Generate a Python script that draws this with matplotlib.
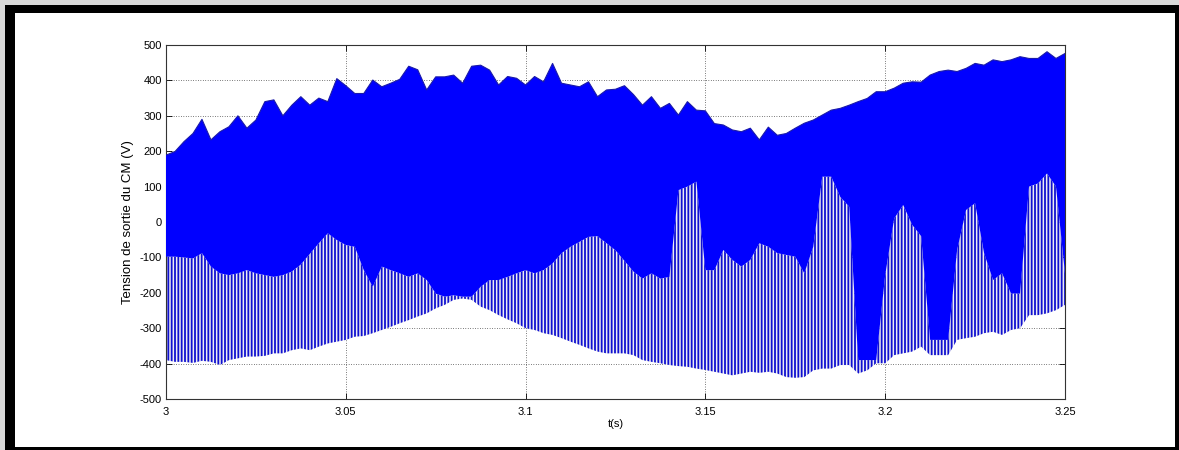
import numpy as np
import matplotlib.pyplot as plt
from matplotlib.patches import Rectangle

# sample grid, one reading every 2.5 ms
t = np.linspace(3.0, 3.25, 101)

# upper envelope of the CM output voltage (V)
v_top = [189, 199, 227, 250, 290, 232, 255, 269, 300, 265, 288, 340, 345, 300, 330, 354, 330, 350,
         340, 405, 385, 363, 363, 401, 382, 392, 403, 440, 430, 373, 410, 410, 415, 392,
         440, 443, 429, 387, 411, 406, 387, 411, 396, 448, 392, 387, 382, 396, 354, 373, 375,
         385, 360, 330, 354, 321, 335, 302, 340, 316, 314, 278, 274, 260, 255, 265, 232, 268,
         245, 250, 265, 279, 288, 302, 316, 321, 330, 340, 349, 368, 368, 378, 392, 396,
         395, 415, 425, 429, 425, 434, 448, 443, 458, 453, 458, 467, 462, 462, 481, 462, 476]

# lower edge of the dense (solid) part of the waveform
v_band = [-98, -98, -100, -103, -88, -126, -145, -150, -145, -136, -145, -150, -155, -150, -140, -120, -90, -60,
          -32, -51, -65, -70, -136, -183, -126, -136, -145, -155, -145, -164, -202, -211, -207, -211,
          -211, -183, -164, -164, -155, -145, -136, -145, -136, -117, -88, -70, -56, -42, -40, -60, -80,
          -110, -140, -160, -145, -160, -155, 90, 100, 114, -136, -136, -79, -107, -126, -107, -60, -70,
          -88, -93, -98, -145, -70, 128, 128, 71, 43, -390, -390, -390, -150, 10, 48, -8,
          -40, -333, -333, -333, -79, 34, 53, -88, -164, -145, -202, -202, 100, 109, 137, 100, -145]

# tips of the negative switching pulses
v_min = [-390, -395, -395, -398, -392, -395, -404, -390, -385, -380, -380, -378, -371, -371, -362, -357, -362, -352,
         -343, -338, -333, -324, -322, -314, -305, -296, -286, -277, -267, -258, -244, -234, -220, -216,
         -220, -239, -249, -263, -275, -286, -300, -305, -314, -319, -328, -338, -347, -357, -366, -371, -371,
         -371, -376, -390, -395, -399, -404, -407, -409, -414, -418, -423, -428, -433, -428, -423, -426, -423,
         -428, -438, -440, -438, -419, -414, -414, -404, -404, -428, -419, -399, -399, -376, -371, -366,
         -352, -376, -376, -376, -333, -328, -324, -314, -310, -319, -305, -300, -263, -263, -258, -249, -234]

xticks = [3, 3.05, 3.1, 3.15, 3.2, 3.25]
xlabels = ['3', '3.05', '3.1', '3.15', '3.2', '3.25']
yticks = [-500, -400, -300, -200, -100, 0, 100, 200, 300, 400, 500]

plt.rcParams['font.family'] = ['Liberation Sans', 'DejaVu Sans']
plt.rcParams['axes.unicode_minus'] = False
plt.rcParams['hatch.linewidth'] = 1.3
plt.rcParams['hatch.color'] = '#1010d0'

fig = plt.figure(figsize=(11.79, 4.5), dpi=100, facecolor='#d9d9d9')
# black frame around the figure, like the screenshot
fig.add_artist(Rectangle((0.0042, 0), 1, 0.989, transform=fig.transFigure,
                         facecolor='black', edgecolor='none', zorder=-2))
fig.add_artist(Rectangle((0.0127, 0.0067), 0.9839, 0.9644, transform=fig.transFigure,
                         facecolor='white', edgecolor='none', zorder=-1))

ax = fig.add_axes([0.1408, 0.1133, 0.7625, 0.7867])

lower = np.maximum(v_band, v_min)
# striped region of the negative pulses
ax.fill_between(t, v_min, lower, facecolor='#ececf4', edgecolor='#1010d0',
                hatch='|||||', linewidth=0, zorder=2)
# dense region
ax.fill_between(t, lower, v_top, facecolor='#0000ff', linewidth=0, zorder=3)
ax.plot(t, v_top, color='#1a1aa8', lw=0.8, zorder=4)

ax.set_xlim(3, 3.25)
ax.set_ylim(-500, 500)
ax.set_xticks(xticks)
ax.set_xticklabels(xlabels)
ax.set_yticks(yticks)
ax.grid(True, color='black', linestyle=(0, (1, 2.5)), linewidth=0.5)
ax.set_axisbelow(True)
ax.tick_params(direction='in', top=True, right=True, length=4, width=0.6,
               labelsize=8, pad=3)
ax.tick_params(axis='x', pad=6)
for s in ax.spines.values():
    s.set_color('#333333')
    s.set_linewidth(0.8)

ax.set_xlabel('t(s)', fontsize=8, labelpad=1)
ax.set_ylabel('Tension de sortie du CM (V)', fontsize=9.5, labelpad=4)

fig.savefig('out.png', dpi=100, facecolor=fig.get_facecolor())
